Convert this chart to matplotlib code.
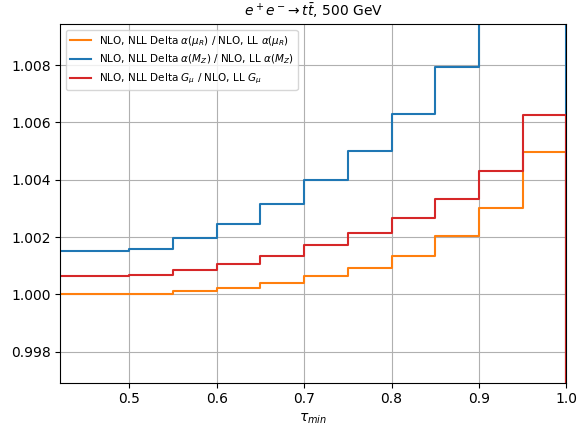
import matplotlib
matplotlib.use("Agg")
import matplotlib.pyplot as plt
import numpy as np

tau = [0.40, 0.50, 0.55, 0.60, 0.65, 0.70, 0.75, 0.80, 0.85, 0.90, 0.95, 1.00]
ratio_mur = [1.00000, 1.00002, 1.00013, 1.00022, 1.00041, 1.00064, 1.00092, 1.00135, 1.00203, 1.00300, 1.00497, 0.0]
ratio_mz = [1.00152, 1.00158, 1.00195, 1.00247, 1.00316, 1.00398, 1.00501, 1.00628, 1.00793, 1.0105, 1.0135, 0.0]
ratio_gmu = [1.00065, 1.00069, 1.00084, 1.00106, 1.00134, 1.00172, 1.00214, 1.00268, 1.00333, 1.00432, 1.00625, 0.0]

labels = [r'NLO, NLL Delta $\alpha(\mu_R)$ / NLO, LL $\alpha(\mu_R)$',
          r'NLO, NLL Delta $\alpha(M_Z)$ / NLO, LL $\alpha(M_Z)$',
          r'NLO, NLL Delta $G_\mu$ / NLO, LL $G_\mu$']

fig = plt.figure(figsize=(5.77, 4.25), dpi=100)
ax = fig.add_axes([60.3/577, 1-382.7/425, (566.3-60.3)/577, (382.7-24.3)/425])
ax.step(tau, ratio_mur, where='post', color='tab:orange', label=labels[0])
ax.step(tau, ratio_mz, where='post', color='tab:blue', label=labels[1])
ax.step(tau, ratio_gmu, where='post', color='tab:red', label=labels[2])
ax.set_xlim(0.421, 1.0)
ax.set_ylim(0.99692, 1.00942)
ax.set_yticks([0.998, 1.000, 1.002, 1.004, 1.006, 1.008])
ax.yaxis.set_major_formatter(matplotlib.ticker.FormatStrFormatter('%.3f'))
ax.grid(True)
ax.set_xlabel(r'$\tau_{min}$')
ax.set_title(r'$e^+e^-\!\to t\bar{t}$, 500 GeV', fontsize=10)
ax.legend(loc='upper left', fontsize=7.5)
fig.savefig('out.png', dpi=100)
